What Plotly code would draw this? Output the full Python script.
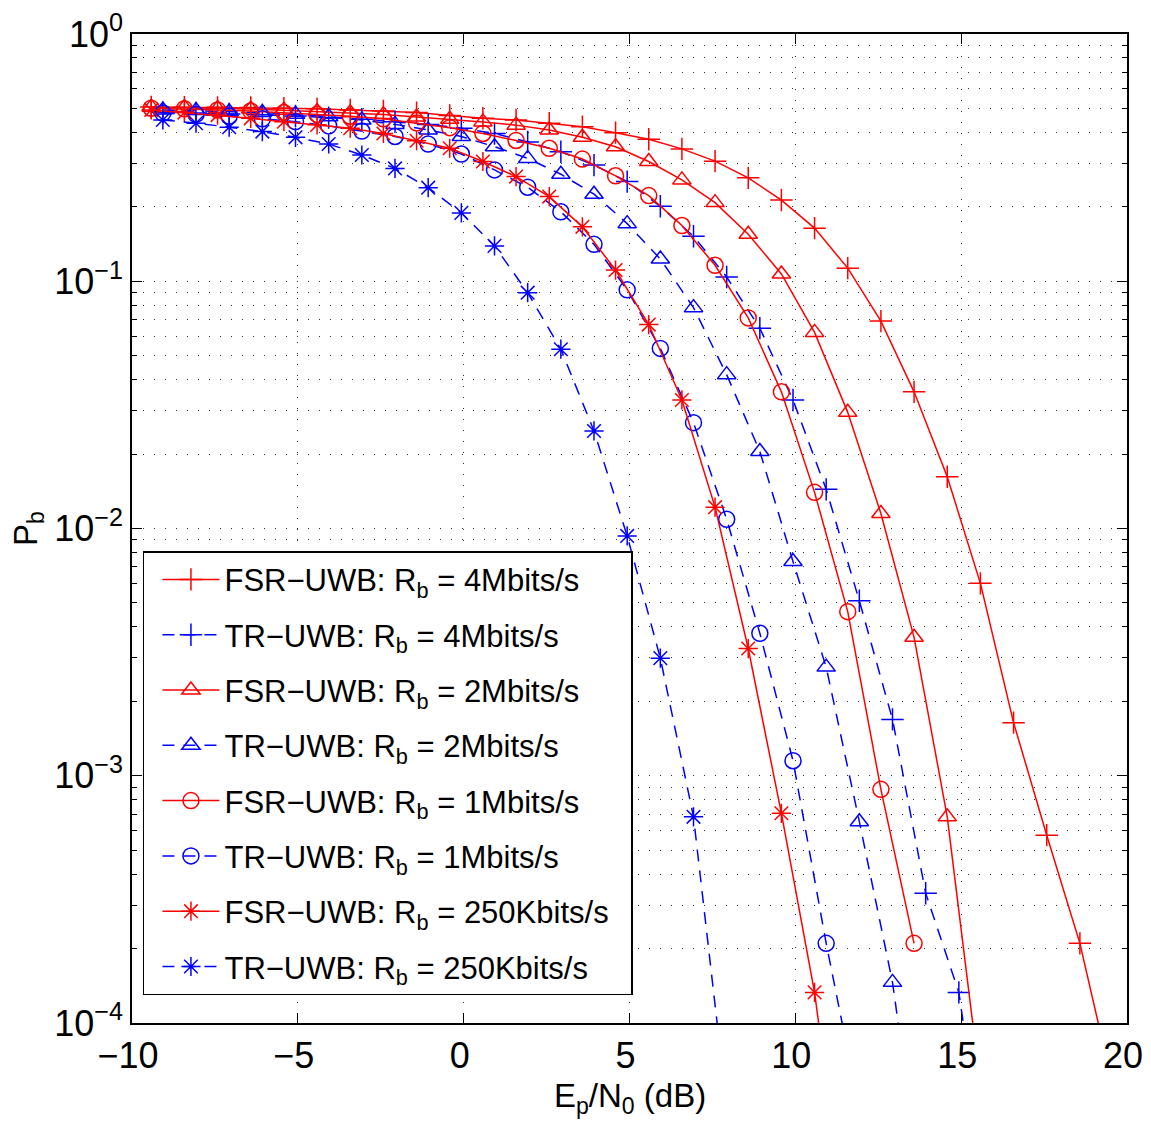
import plotly.graph_objects as go

# Ep/N0 grids (dB)
snr_fsr = [-9.42, -8.42, -7.42, -6.42, -5.42, -4.42, -3.42, -2.42, -1.42, -0.42,
           0.58, 1.58, 2.58, 3.58, 4.58, 5.58, 6.58, 7.58, 8.58, 9.58,
           10.58, 11.58, 12.58, 13.58, 14.58, 15.58, 16.58, 17.58, 18.58, 19.58]
snr_tr = [-9.07, -8.07, -7.07, -6.07, -5.07, -4.07, -3.07, -2.07, -1.07, -0.07,
          0.93, 1.93, 2.93, 3.93, 4.93, 5.93, 6.93, 7.93, 8.93, 9.93,
          10.93, 11.93, 12.93, 13.93, 14.93, 15.93]

# Bit error probability values
fsr_4m = [0.507, 0.506, 0.505, 0.504, 0.501, 0.498, 0.493, 0.488, 0.481, 0.468,
          0.456, 0.449, 0.436, 0.422, 0.399, 0.375, 0.343, 0.306, 0.262, 0.213,
          0.164, 0.113, 0.0690, 0.0357, 0.0162, 0.00600, 0.00164, 0.000575, 0.000210, 5.5e-5]
tr_4m = [0.481, 0.479, 0.475, 0.471, 0.466, 0.459, 0.452, 0.442, 0.431, 0.416,
         0.396, 0.366, 0.334, 0.295, 0.253, 0.201, 0.152, 0.104, 0.0646, 0.0331,
         0.0144, 0.00510, 0.00169, 0.000335, 0.000133, 1.6e-5]
fsr_2m = [0.506, 0.504, 0.500, 0.497, 0.492, 0.486, 0.480, 0.472, 0.462, 0.452,
          0.441, 0.428, 0.409, 0.382, 0.350, 0.305, 0.257, 0.208, 0.155, 0.107,
          0.0621, 0.0295, 0.0115, 0.00363, 0.000682, 5.6e-5]
tr_2m = [0.493, 0.490, 0.485, 0.481, 0.474, 0.463, 0.449, 0.431, 0.409, 0.385,
         0.350, 0.314, 0.271, 0.225, 0.171, 0.123, 0.0782, 0.0419, 0.0205, 0.00735,
         0.00275, 0.000652, 0.000146, 1.6e-5]
fsr_1m = [0.501, 0.498, 0.493, 0.488, 0.481, 0.473, 0.465, 0.454, 0.437, 0.418,
          0.396, 0.371, 0.345, 0.312, 0.267, 0.222, 0.168, 0.116, 0.0711, 0.0357,
          0.0140, 0.00461, 0.000881, 0.000210]
tr_1m = [0.479, 0.473, 0.465, 0.454, 0.442, 0.425, 0.405, 0.385, 0.359, 0.327,
         0.282, 0.240, 0.191, 0.141, 0.0923, 0.0535, 0.0268, 0.0109, 0.00377, 0.00115,
         0.000210, 4.5e-5]
fsr_250k = [0.493, 0.481, 0.470, 0.456, 0.442, 0.429, 0.416, 0.396, 0.370, 0.345,
            0.305, 0.265, 0.220, 0.166, 0.111, 0.0668, 0.0331, 0.0122, 0.00327, 0.000705,
            0.000133, 1.3e-5]
tr_250k = [0.449, 0.436, 0.420, 0.403, 0.382, 0.359, 0.324, 0.286, 0.239, 0.189,
           0.139, 0.0899, 0.0531, 0.0248, 0.00933, 0.00299, 0.000682, 4.6e-5]

x_ticks = [-10, -5, 0, 5, 10, 15, 20]
x_ticktext = ["\u221210", "\u22125", "0", "5", "10", "15", "20"]
y_ticks = [1e-4, 1e-3, 1e-2, 1e-1, 1]
y_ticktext = ["10<sup>\u22124</sup>", "10<sup>\u22123</sup>", "10<sup>\u22122</sup>",
              "10<sup>\u22121</sup>", "10<sup>0</sup>"]
y_minor = [m * 10 ** e for e in range(-4, 0) for m in range(2, 10)]

RED = "#ff0000"
BLUE = "#0000ff"
FONT = "Liberation Sans, Arial, Helvetica, sans-serif"

series = [
    ("FSR\u2212UWB: R<sub>b</sub> = 4Mbits/s", snr_fsr, fsr_4m, RED, "solid", "cross-thin-open"),
    ("TR\u2212UWB: R<sub>b</sub> = 4Mbits/s", snr_tr, tr_4m, BLUE, "12px,9px", "cross-thin-open"),
    ("FSR\u2212UWB: R<sub>b</sub> = 2Mbits/s", snr_fsr, fsr_2m, RED, "solid", "triangle-up-open"),
    ("TR\u2212UWB: R<sub>b</sub> = 2Mbits/s", snr_tr, tr_2m, BLUE, "12px,9px", "triangle-up-open"),
    ("FSR\u2212UWB: R<sub>b</sub> = 1Mbits/s", snr_fsr, fsr_1m, RED, "solid", "circle-open"),
    ("TR\u2212UWB: R<sub>b</sub> = 1Mbits/s", snr_tr, tr_1m, BLUE, "12px,9px", "circle-open"),
    ("FSR\u2212UWB: R<sub>b</sub> = 250Kbits/s\u00a0\u00a0", snr_fsr, fsr_250k, RED, "solid", "asterisk-open"),
    ("TR\u2212UWB: R<sub>b</sub> = 250Kbits/s", snr_tr, tr_250k, BLUE, "12px,9px", "asterisk-open"),
]

fig = go.Figure()
for i, (name, xs, ys, col, dash, sym) in enumerate(series):
    fig.add_trace(go.Scatter(
        x=xs[:len(ys)], y=ys, name=name, mode="lines+markers",
        legendgroup=f"g{i}",
        line=dict(color=col, width=1.5, dash=dash),
        marker=dict(symbol=sym, size=16, color=col, line=dict(color=col, width=1.5)),
        cliponaxis=True,
    ))

axis_common = dict(
    showline=True, linecolor="black", linewidth=1.5, mirror="ticks",
    ticks="inside", ticklen=10, tickcolor="black", tickwidth=1,
    showgrid=True, gridcolor="#333333", gridwidth=1, griddash="1px,10px",
    zeroline=False, ticklabeloverflow="allow", automargin=False,
    tickfont=dict(family=FONT, size=36, color="black"),
)

fig.update_xaxes(
    range=[-10, 20], tickmode="array", tickvals=x_ticks, ticktext=x_ticktext,
    ticklabelshift=-4,
    **axis_common,
)
fig.update_yaxes(
    type="log", range=[-4, 0], tickmode="array", tickvals=y_ticks, ticktext=y_ticktext,
    minor=dict(tickmode="array", tickvals=y_minor, ticks="inside", ticklen=5,
               tickcolor="black", showgrid=True, gridcolor="#333333",
               griddash="1px,10px", gridwidth=1),
    **axis_common,
)

fig.update_layout(
    width=1151, height=1136,
    margin=dict(l=124, r=32, t=26, b=121, autoexpand=False),
    paper_bgcolor="white", plot_bgcolor="white",
    font=dict(family=FONT, color="black"),
    legend=dict(
        x=0.011, y=0.477, xanchor="left", yanchor="top",
        bgcolor="white", bordercolor="black", borderwidth=1.5,
        font=dict(family=FONT, size=31, color="black"),
        tracegroupgap=12, itemwidth=57, indentation=13,
    ),
    annotations=[
        dict(text="E<sub>p</sub>/N<sub>0</sub> (dB)", xref="paper", yref="paper",
             x=0.5, y=-0.076, xanchor="center", yanchor="middle", showarrow=False,
             font=dict(family=FONT, size=33, color="black")),
        dict(text="P<sub>b</sub>", xref="paper", yref="paper",
             x=-0.105, y=0.5, xanchor="center", yanchor="middle", showarrow=False,
             textangle=-90, font=dict(family=FONT, size=33, color="black")),
    ],
)

fig.write_html("out.html")
